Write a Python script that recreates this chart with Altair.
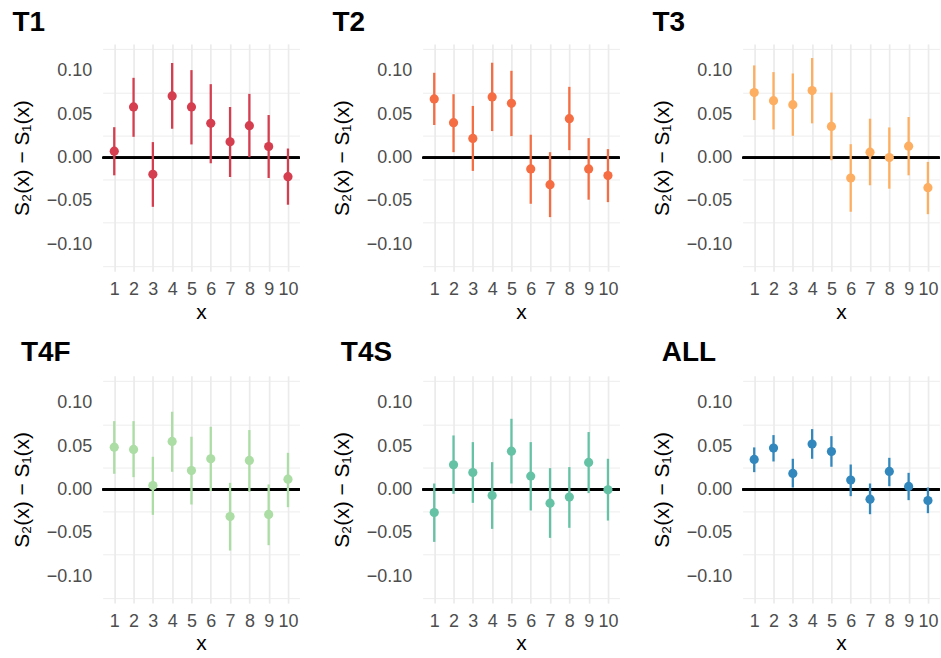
import altair as alt
import pandas as pd

xs = list(range(1, 11))

t1_est = [0.0073, 0.0583, -0.0193, 0.0710, 0.0583, 0.0394, 0.0181, 0.0367, 0.0127, -0.0220]
t1_lo = [-0.0205, 0.0239, -0.0568, 0.0332, 0.0151, -0.0066, -0.0224, 0.0004, -0.0236, -0.0544]
t1_hi = [0.0350, 0.0919, 0.0178, 0.1090, 0.1008, 0.0846, 0.0583, 0.0734, 0.0490, 0.0104]

t2_est = [0.0676, 0.0402, 0.0220, 0.0699, 0.0625, -0.0131, -0.0313, 0.0448, -0.0131, -0.0208]
t2_lo = [0.0375, 0.0062, -0.0154, 0.0305, 0.0247, -0.0533, -0.0687, 0.0085, -0.0486, -0.0514]
t2_hi = [0.0977, 0.0730, 0.0595, 0.1093, 0.1000, 0.0263, 0.0062, 0.0815, 0.0224, 0.0097]

t3_est = [0.0749, 0.0656, 0.0610, 0.0772, 0.0359, -0.0236, 0.0062, 0.0000, 0.0131, -0.0347]
t3_lo = [0.0432, 0.0324, 0.0251, 0.0394, -0.0031, -0.0625, -0.0320, -0.0359, -0.0205, -0.0653]
t3_hi = [0.1062, 0.0985, 0.0969, 0.1147, 0.0749, 0.0154, 0.0448, 0.0347, 0.0467, -0.0050]

t4f_est = [0.0488, 0.0462, 0.0046, 0.0554, 0.0219, 0.0354, -0.0312, 0.0335, -0.0288, 0.0119]
t4f_lo = [0.0181, 0.0142, -0.0292, 0.0204, -0.0173, -0.0019, -0.0704, -0.0027, -0.0642, -0.0204]
t4f_hi = [0.0788, 0.0788, 0.0377, 0.0896, 0.0608, 0.0723, 0.0077, 0.0685, 0.0058, 0.0423]

t4s_est = [-0.0265, 0.0285, 0.0196, -0.0069, 0.0442, 0.0154, -0.0158, -0.0088, 0.0312, -0.0004]
t4s_lo = [-0.0604, -0.0050, -0.0154, -0.0454, 0.0069, -0.0242, -0.0558, -0.0442, -0.0042, -0.0358]
t4s_hi = [0.0069, 0.0623, 0.0546, 0.0315, 0.0815, 0.0546, 0.0246, 0.0258, 0.0662, 0.0354]

all_est = [0.0346, 0.0477, 0.0185, 0.0523, 0.0438, 0.0108, -0.0112, 0.0208, 0.0035, -0.0127]
all_lo = [0.0200, 0.0323, 0.0023, 0.0354, 0.0262, -0.0077, -0.0285, 0.0038, -0.0123, -0.0273]
all_hi = [0.0485, 0.0627, 0.0354, 0.0696, 0.0615, 0.0288, 0.0069, 0.0365, 0.0192, 0.0023]

names = ["T1", "T2", "T3", "T4F", "T4S", "ALL"]
colors = ["#D53E4F", "#F46D43", "#FDAE61", "#ABDDA4", "#66C2A5", "#3288BD"]
ests = [t1_est, t2_est, t3_est, t4f_est, t4s_est, all_est]
los = [t1_lo, t2_lo, t3_lo, t4f_lo, t4s_lo, all_lo]
his = [t1_hi, t2_hi, t3_hi, t4f_hi, t4s_hi, all_hi]

y_major = [-0.1, -0.05, 0.0, 0.05, 0.1]
y_minor = [-0.125, -0.075, -0.025, 0.025, 0.075, 0.125]
y_title = "S\u2082(x) \u2212 S\u2081(x)"
FONT = "Liberation Sans"

xscale = alt.Scale(domain=[0.4, 10.6], nice=False, zero=False)
yscale = alt.Scale(domain=[-0.131, 0.131], nice=False, zero=False)

xaxis = alt.Axis(values=xs, format="d", title="x", labelPadding=9, titlePadding=3,
                 labelFlush=False, gridWidth=1.7)
yaxis = alt.Axis(values=y_major, format=".2f", title=y_title, labelPadding=11, titlePadding=14,
                 gridWidth=1.7, orient="left")
minor_axis = alt.Axis(values=y_minor, labels=False, ticks=False, domain=False, title=None,
                      grid=True, gridWidth=0.9, orient="left")


def panel(i, dx, offset):
    df = pd.DataFrame({"x": xs, "est": ests[i], "lo": los[i], "hi": his[i]})
    base = alt.Chart(df)
    zero = base.mark_rule(color="black", strokeWidth=1.8).encode(
        y=alt.YDatum(0, scale=yscale, axis=yaxis, title=y_title, type="quantitative"),
    )
    bars = base.mark_rule(color=colors[i], strokeWidth=2.3).encode(
        x=alt.X("x:Q", scale=xscale, axis=xaxis, title="x"),
        y=alt.Y("lo:Q", scale=yscale, axis=yaxis, title=y_title),
        y2="hi:Q",
    )
    pts = base.mark_circle(color=colors[i], size=85, opacity=1).encode(
        x=alt.X("x:Q", scale=xscale, axis=xaxis, title="x"),
        y=alt.Y("est:Q", scale=yscale, axis=yaxis, title=y_title),
    )
    minor = base.mark_point(opacity=0).encode(
        y=alt.Y("est:Q", scale=yscale, axis=minor_axis),
    )
    inner = alt.layer(zero, bars, pts)
    return alt.layer(inner, minor).resolve_axis(y="independent").properties(
        width=197.5, height=228,
        title=alt.TitleParams(text=names[i], anchor="start", frame="bounds", fontSize=28,
                              fontWeight="bold", font=FONT, color="black", dx=dx, offset=offset),
    )


row1 = alt.hconcat(panel(0, 1.0, 7), panel(1, 1.0, 7), panel(2, 1.0, 7), spacing=30)
row2 = alt.hconcat(panel(3, 9.5, 9), panel(4, 9.5, 9), panel(5, 10.5, 9), spacing=30)

chart = alt.vconcat(row1, row2, spacing=17).properties(
    padding={"left": 11, "top": 8, "right": 0, "bottom": 0}
).configure(background="white").configure_view(stroke=None).configure_axis(
    gridColor="#EBEBEB", domain=False, ticks=False, tickSize=0,
    labelFont=FONT, labelFontSize=18, labelColor="#4D4D4D",
    titleFont=FONT, titleFontSize=21, titleFontWeight="normal", titleColor="black",
)

chart.save("out.html", embed_options={"renderer": "svg", "actions": False})
